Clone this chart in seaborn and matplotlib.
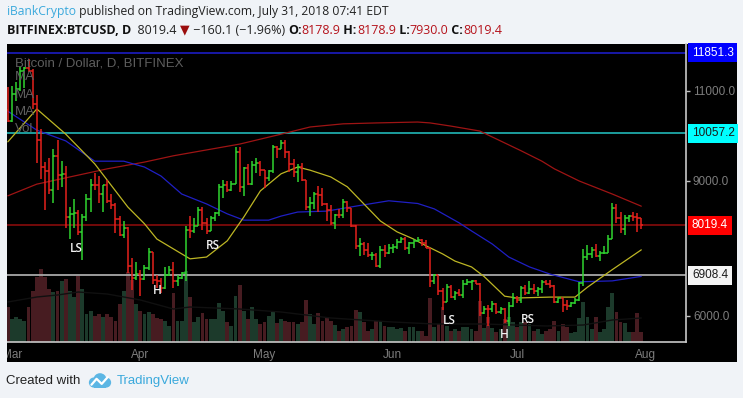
import matplotlib
matplotlib.use("Agg")
import matplotlib.pyplot as plt
import matplotlib.dates as mdates
import matplotlib.transforms as mtransforms
from matplotlib.patches import Rectangle, Circle
import numpy as np
import pandas as pd
import seaborn as sns

# %% data (BITFINEX BTCUSD, daily, Feb 28 - Jul 31 2018)
dates = pd.date_range("2018-02-28", "2018-07-31", freq="D")

opens = (
    [10580]
    + [10330, 10930, 11040, 11440, 11500, 11450, 10720, 9920, 9300, 9230, 8790, 9550, 9140, 9160, 8200, 8260,
       8280, 7870, 8200, 8600, 8920, 8900, 8720, 8900, 8550, 8460, 8150, 7800, 7950, 7100, 6850]
    + [6930, 6820, 7060, 7420, 6800, 6780, 6620, 6900, 7030, 6780, 6840, 6950, 7920, 7890, 8000, 8360,
       8060, 7890, 8170, 8280, 8870, 8920, 8800, 8940, 9650, 8870, 9280, 8930, 9350, 9410]
    + [9240, 9070, 9220, 9750, 9700, 9850, 9650, 9370, 9200, 9320, 9030, 8430, 8500, 8710, 8680, 8480,
       8350, 8060, 8250, 8240, 8540, 8400, 8000, 7550, 7600, 7460, 7350, 7360, 7120, 7460, 7400]
    + [7520, 7540, 7650, 7710, 7500, 7630, 7670, 7690, 7630, 7510, 6780, 6900, 6550, 6320, 6650, 6420,
       6500, 6460, 6720, 6760, 6770, 6720, 6070, 6160, 6150, 6260, 6090, 6150, 5880, 6220]
    + [6400, 6360, 6620, 6520, 6600, 6550, 6610, 6760, 6710, 6660, 6300, 6390, 6250, 6220, 6280, 6350,
       6730, 7320, 7380, 7470, 7330, 7400, 7400, 7720, 8400, 8170, 7940, 8180, 8230, 8210, 8178.9]
)
highs = (
    [11080]
    + [11100, 11190, 11530, 11540, 11700, 11480, 10900, 10150, 9420, 9500, 9720, 9900, 9450, 9330, 8430, 8600,
       8350, 8270, 8720, 9050, 9180, 9100, 8900, 9030, 8700, 8500, 8230, 8100, 7980, 7280, 7200]
    + [7020, 7140, 7520, 7430, 6920, 6850, 7080, 7100, 7200, 6900, 6980, 8000, 8220, 8180, 8420, 8420,
       8180, 8230, 8300, 8930, 9030, 9000, 9000, 9750, 9750, 9300, 9380, 9450, 9520, 9450]
    + [9250, 9250, 9800, 9770, 9900, 9920, 9660, 9480, 9370, 9390, 9030, 8650, 8760, 8880, 8840, 8500,
       8470, 8270, 8380, 8590, 8560, 8410, 8020, 7730, 7650, 7620, 7420, 7400, 7550, 7570, 7600]
    + [7600, 7700, 7760, 7760, 7640, 7700, 7750, 7700, 7680, 7520, 6930, 6900, 6620, 6700, 6680, 6560,
       6590, 6800, 6830, 6800, 6800, 6730, 6230, 6250, 6340, 6290, 6200, 6170, 6300, 6500]
    + [6440, 6670, 6680, 6780, 6700, 6650, 6800, 6800, 6810, 6680, 6400, 6390, 6350, 6320, 6400, 6750,
       7480, 7580, 7540, 7600, 7440, 7550, 7790, 8500, 8480, 8300, 8250, 8240, 8300, 8280, 8178.9]
)
lows = (
    [10300]
    + [10300, 10780, 11000, 11070, 11420, 10600, 9400, 9050, 8350, 8700, 8520, 8800, 8860, 7950, 7700, 7950,
       7800, 7250, 8100, 8300, 8800, 8500, 8300, 8520, 8380, 7850, 7780, 7740, 6950, 6570, 6800]
    + [6440, 6790, 7030, 6720, 6620, 6520, 6600, 6890, 6620, 6660, 6820, 6780, 7740, 7850, 8000, 7900,
       7820, 7880, 8100, 8220, 8620, 8760, 8780, 8930, 8750, 8660, 8900, 8900, 9180, 9100]
    + [8850, 9000, 9180, 9500, 9700, 9500, 9200, 9080, 8980, 8990, 8350, 8220, 8380, 8300, 8450, 8120,
       8020, 7940, 8180, 8180, 8320, 7980, 7480, 7330, 7360, 7320, 7250, 7080, 7060, 7300, 7380]
    + [7400, 7480, 7620, 7460, 7380, 7520, 7650, 7560, 7500, 6650, 6700, 6470, 6140, 6320, 6400, 6360,
       6450, 6400, 6680, 6580, 6700, 6000, 6040, 5780, 6080, 6050, 6040, 5850, 5780, 6200]
    + [6280, 6280, 6460, 6480, 6480, 6450, 6520, 6680, 6620, 6280, 6280, 6080, 6130, 6200, 6260, 6340,
       6660, 7250, 7280, 7300, 7230, 7380, 7400, 7700, 8070, 7850, 7800, 8080, 8120, 7860, 7930]
)
closes = (
    [10330]
    + [10930, 11040, 11440, 11500, 11450, 10720, 9920, 9300, 9230, 8790, 9550, 9140, 9160, 8200, 8260, 8280,
       7870, 8200, 8600, 8920, 8900, 8720, 8900, 8550, 8460, 8150, 7800, 7950, 7100, 6850, 6930]
    + [6820, 7060, 7420, 6800, 6780, 6620, 6900, 7030, 6780, 6840, 6950, 7920, 7890, 8000, 8360, 8060,
       7890, 8170, 8280, 8870, 8920, 8800, 8940, 9650, 8870, 9280, 8930, 9350, 9410, 9240]
    + [9070, 9220, 9750, 9700, 9850, 9650, 9370, 9200, 9320, 9030, 8430, 8500, 8710, 8680, 8480, 8350,
       8060, 8250, 8240, 8540, 8400, 8000, 7550, 7600, 7460, 7350, 7360, 7120, 7460, 7400, 7520]
    + [7540, 7650, 7710, 7500, 7630, 7670, 7690, 7630, 7510, 6780, 6900, 6550, 6320, 6650, 6420, 6500,
       6460, 6720, 6760, 6770, 6720, 6070, 6160, 6150, 6260, 6090, 6150, 5880, 6220, 6400]
    + [6360, 6620, 6520, 6600, 6550, 6610, 6760, 6710, 6660, 6300, 6390, 6250, 6220, 6280, 6350, 6730,
       7320, 7380, 7470, 7330, 7400, 7400, 7720, 8400, 8170, 7940, 8180, 8230, 8210, 8178.9, 8019.4]
)
# volume, thousand BTC (approx.)
volume = (
    [35]
    + [23, 25, 23, 21, 35, 51, 65, 73, 65, 53, 50, 51, 61, 63, 51, 45, 66, 53, 28, 31, 26, 28, 25, 28, 25,
       21, 38, 51, 70, 62, 38]
    + [31, 28, 30, 28, 24, 23, 21, 16, 49, 21, 21, 71, 45, 20, 25, 29, 23, 23, 23, 39, 31, 20, 16, 46, 57,
       31, 23, 35, 23, 18]
    + [20, 26, 30, 19, 23, 21, 20, 20, 18, 20, 42, 28, 18, 29, 21, 25, 21, 17, 11, 13, 15, 16, 32, 30, 20,
       11, 13, 21, 21, 16, 15]
    + [15, 13, 14, 11, 15, 15, 11, 11, 6, 44, 15, 18, 35, 16, 11, 13, 11, 15, 15, 13, 11, 41, 14, 25, 14,
       10, 13, 23, 25, 20]
    + [15, 20, 20, 18, 11, 13, 8, 11, 13, 21, 11, 18, 15, 9, 10, 24, 40, 25, 13, 25, 10, 13, 35, 49, 30,
       20, 19, 10, 10, 29, 10]
)

# moving averages, sampled from the chart
ma_fast_dates = ["2018-02-28", "2018-03-07", "2018-03-14", "2018-03-21", "2018-03-26", "2018-03-29",
                 "2018-04-02", "2018-04-05", "2018-04-13", "2018-04-17", "2018-04-22", "2018-04-26",
                 "2018-04-30", "2018-05-05", "2018-05-09", "2018-05-12", "2018-05-17", "2018-05-21",
                 "2018-05-25", "2018-05-29", "2018-06-02", "2018-06-06", "2018-06-09", "2018-06-13",
                 "2018-06-16", "2018-06-20", "2018-06-23", "2018-06-28", "2018-07-01", "2018-07-09",
                 "2018-07-15", "2018-07-18", "2018-07-24", "2018-07-31"]
ma_fast = [9870, 10600, 10040, 9380, 8780, 8420, 8050, 7710, 7270, 7310, 7670, 8200, 8780, 9160, 9310, 9240,
           9090, 8870, 8490, 8110, 7870, 7710, 7560, 7380, 7220, 7090, 6880, 6440, 6400, 6420, 6420, 6640,
           7030, 7470]
ma_mid_dates = ["2018-02-28", "2018-03-07", "2018-03-14", "2018-03-21", "2018-03-28", "2018-04-02",
                "2018-04-06", "2018-04-11", "2018-04-17", "2018-04-22", "2018-04-26", "2018-05-02",
                "2018-05-05", "2018-05-09", "2018-05-16", "2018-05-23", "2018-05-31", "2018-06-07",
                "2018-06-11", "2018-06-17", "2018-06-20", "2018-06-25", "2018-06-29", "2018-07-04",
                "2018-07-09", "2018-07-16", "2018-07-24", "2018-07-31"]
ma_mid = [10550, 10130, 9890, 9440, 9440, 9310, 9110, 8710, 8490, 8270, 8130, 8130, 8220, 8310, 8330, 8440,
          8560, 8500, 8380, 8070, 7890, 7600, 7310, 7090, 6930, 6760, 6780, 6880]
ma_slow_dates = ["2018-02-28", "2018-03-07", "2018-03-16", "2018-03-24", "2018-04-02", "2018-04-09",
                 "2018-04-17", "2018-04-25", "2018-05-05", "2018-05-12", "2018-05-20", "2018-05-28",
                 "2018-06-07", "2018-06-10", "2018-06-15", "2018-06-22", "2018-06-27", "2018-07-02",
                 "2018-07-07", "2018-07-10", "2018-07-16", "2018-07-24", "2018-07-31"]
ma_slow = [8670, 8930, 9110, 9270, 9420, 9560, 9690, 9820, 10040, 10200, 10270, 10290, 10310, 10290, 10220,
           10110, 9890, 9670, 9440, 9270, 9000, 8710, 8440]
vol_ma_dates = ["2018-02-28", "2018-03-07", "2018-03-12", "2018-03-17", "2018-03-24", "2018-04-01",
                "2018-04-09", "2018-04-13", "2018-04-25", "2018-05-05", "2018-05-17", "2018-06-01",
                "2018-06-11", "2018-06-23", "2018-07-08", "2018-07-17", "2018-07-24", "2018-07-31"]
vol_ma = [40, 45, 47, 50, 48, 42, 33, 35, 33, 30, 24, 20, 18, 18, 16, 17, 22, 24]

# horizontal levels
levels = [11851.3, 10057.2, 8019.4, 6908.4]
level_line = ["#1a1ab4", "#1fa9a9", "#7d0b0b", "#a8a8a8"]
level_box = ["#0000ff", "#00ffff", "#ff0000", "#f4f4f4"]
level_text = ["white", "#1a1a1a", "white", "#1a1a1a"]

# pattern labels
pattern_labels = ["LS", "H", "RS", "LS", "H", "RS"]
pattern_dates = ["2018-03-16 12:00", "2018-04-05", "2018-04-18 12:00", "2018-06-14 18:00", "2018-06-28",
                 "2018-07-03 14:00"]
pattern_prices = [7510, 6560, 7560, 5890, 5580, 5930]

df = pd.DataFrame({"date": dates, "open": opens, "high": highs, "low": lows,
                   "close": closes, "volume": volume})
df["t"] = mdates.date2num(df["date"].dt.to_pydatetime())
df["up"] = df["close"] >= df["open"]

# %% figure
sns.set_style("dark", {"axes.facecolor": "black"})
plt.rcParams["font.family"] = ["Open Sans", "DejaVu Sans"]
narrow = ["Liberation Sans Narrow", "Liberation Sans", "DejaVu Sans"]

W, H = 743, 398
bg = "#f0f3f7"
fig = plt.figure(figsize=(W / 100, H / 100), dpi=100, facecolor=bg)


def px(x0, y0, x1, y1):
    return [x0 / W, 1 - y1 / H, (x1 - x0) / W, (y1 - y0) / H]


fig.patches.append(Rectangle((7 / W, 1 - 362 / H), 730 / W, 318 / H, transform=fig.transFigure,
                             facecolor="black", edgecolor="none", zorder=-10))

ax_v = fig.add_axes(px(7, 44, 686, 342))
ax = fig.add_axes(px(7, 44, 686, 342), sharex=ax_v)
ax_v.set_facecolor("black")
ax.patch.set_visible(False)

# volume
ax_v.bar(df["t"], df["volume"], width=0.92, linewidth=0,
         color=np.where(df["up"], "#1c3a2b", "#471c21"))
sns.lineplot(x=mdates.date2num(pd.to_datetime(vol_ma_dates).to_pydatetime()), y=vol_ma, ax=ax_v,
             color="#101010", linewidth=1)
ax_v.set_ylim(0, 298)
ax_v.set_yticks([])
ax_v.tick_params(bottom=False, labelbottom=False, left=False, labelleft=False)
for s in ax_v.spines.values():
    s.set_visible(False)

# levels
for lv, c in zip(levels, level_line):
    ax.axhline(lv, color=c, lw=1.3, zorder=1)

# moving averages
for d, v, c in [(ma_slow_dates, ma_slow, "#9e1414"), (ma_mid_dates, ma_mid, "#1f1fc4"),
                (ma_fast_dates, ma_fast, "#bdb624")]:
    sns.lineplot(x=mdates.date2num(pd.to_datetime(d).to_pydatetime()), y=v, ax=ax, color=c,
                 linewidth=0.9, zorder=2)

# OHLC bars
cols = np.where(df["up"], "#2fd42f", "#e5211c")
ax.vlines(df["t"], df["low"], df["high"], colors=cols, lw=1.1, zorder=3)
ax.hlines(df["open"], df["t"] - 0.5, df["t"], colors=cols, lw=1.1, zorder=3)
ax.hlines(df["close"], df["t"], df["t"] + 0.5, colors=cols, lw=1.1, zorder=3)

for lab, d, p in zip(pattern_labels, pattern_dates, pattern_prices):
    ax.text(mdates.date2num(pd.Timestamp(d).to_pydatetime()), p, lab, color="#f2f2f2", fontsize=8.5,
            fontweight="semibold", ha="center", va="center", zorder=4)

t0 = mdates.date2num(pd.Timestamp("2018-03-01").to_pydatetime())
ax.set_xlim(t0 - 1.2, t0 + 162.8)
ax.set_ylim(5422, 12044)
ax.set_xlabel("")
ax.set_ylabel("")

# axes styling
ax.yaxis.tick_right()
ax.set_yticks([6000, 9000, 11000])
ax.set_yticklabels(["6000.0", "9000.0", "11000.0"])
months = pd.date_range("2018-03-01", "2018-08-01", freq="MS")
ax.set_xticks(mdates.date2num(months.to_pydatetime()))
ax.set_xticklabels(months.strftime("%b"))
ax.tick_params(axis="both", colors="#c0c0c0", length=3, width=1, labelsize=8.5, labelcolor="#7d7d7d", pad=2)
for lab in ax.get_xticklabels() + ax.get_yticklabels():
    lab.set_family(narrow)
for name, s in ax.spines.items():
    s.set_visible(name in ("right", "bottom"))
    s.set_color("#c8c8c8")
    s.set_linewidth(1.2)

# the "Mar" label is cut off at the left edge of the black panel
fig.patches.append(Rectangle((0, 1 - 364 / H), 7 / W, 24 / H, transform=fig.transFigure,
                             facecolor=bg, edgecolor="none", zorder=20))

trans = mtransforms.blended_transform_factory(ax.transAxes, ax.transData)
for lv, fc, tc in zip(levels, level_box, level_text):
    ax.text(1 + 6 / 679, lv, f"{lv:.1f}", transform=trans, ha="left", va="center", fontsize=8.5,
            color=tc, family=narrow, clip_on=False, zorder=6,
            bbox=dict(boxstyle="square,pad=0.3", fc=fc, ec="none"))

# legend-ish labels in the chart
fig.text(15 / W, 1 - 64 / H, "Bitcoin / Dollar, D, BITFINEX", color="#5e5e5e", fontsize=9.5,
         va="center", family=narrow)
for lab, y in zip(["MA", "MA", "MA", "Vol"], [77, 95, 112, 129]):
    fig.text(15 / W, 1 - y / H, lab, color="#5e5e5e", fontsize=9.5, va="center", family=narrow)

# header / footer
renderer = fig.canvas.get_renderer()


def draw_parts(parts, x, y, size, family=None):
    x = x / W
    for s, color, weight in parts:
        kw = dict(color=color, fontweight=weight, fontsize=size, va="center", ha="left")
        if family:
            kw["family"] = family
        t = fig.text(x, 1 - y / H, s, **kw)
        x += t.get_window_extent(renderer=renderer).width / fig.bbox.width


draw_parts([("iBankCrypto", "#3aa9dc", "normal"),
            (" published on TradingView.com, July 31, 2018 07:41 EDT", "#222222", "normal")], 7, 12, 8.7)
red = "#b5121b"
draw_parts([("BITFINEX:BTCUSD, D", "#111111", "bold"), ("  8019.4 ", "#222222", "normal"),
            ("▼", "#9b0d0d", "normal"), (" \u2212160.1 (\u22121.96%) ", "#222222", "normal"),
            ("O:", "#111111", "bold"), ("8178.9", red, "normal"), (" H:", "#111111", "bold"),
            ("8178.9", red, "normal"), (" L:", "#111111", "bold"), ("7930.0", red, "normal"),
            (" C:", "#111111", "bold"), ("8019.4", red, "normal")], 7, 30, 9)

draw_parts([("Created with", "#222222", "normal")], 6, 381, 9.5, narrow)
fig.text(117 / W, 1 - 381 / H, "TradingView", color="#3aa9dc", fontsize=9.5, va="center", family=narrow)

# small cloud logo
lg = fig.add_axes(px(88, 372, 112, 389))
lg.set_xlim(0, 1.4)
lg.set_ylim(0, 1)
lg.axis("off")
for cx, cy, r in [(0.35, 0.38, 0.3), (0.7, 0.55, 0.38), (1.05, 0.38, 0.3)]:
    lg.add_patch(Circle((cx, cy), r, color="#5cb6e4", lw=0))
lg.add_patch(Rectangle((0.35, 0.08), 0.7, 0.3, color="#5cb6e4", lw=0))
lg.plot([0.2, 0.5, 0.8, 1.15], [0.25, 0.6, 0.3, 0.7], color="white", lw=1.6)

fig.savefig("out.png", dpi=100, facecolor=fig.get_facecolor())
